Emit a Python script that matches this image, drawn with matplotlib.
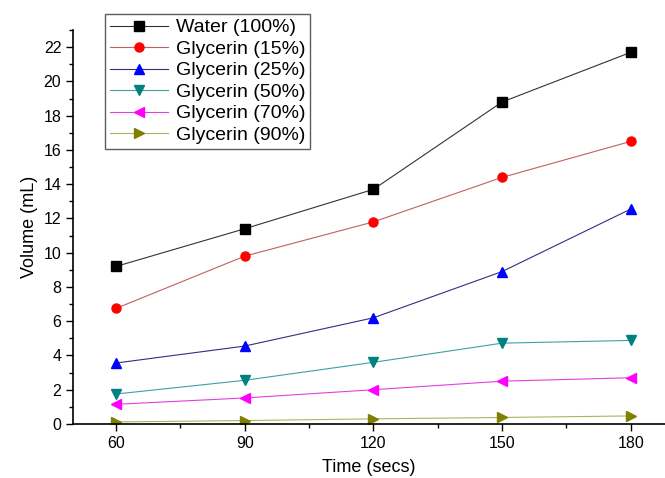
import numpy as np
import matplotlib.pyplot as plt
from matplotlib.ticker import MultipleLocator

plt.rcParams['font.family'] = ['Liberation Sans', 'DejaVu Sans']

# Dane
time_s = [60, 90, 120, 150, 180]
water_100 = [9.2, 11.4, 13.7, 18.8, 21.7]
glycerin_15 = [6.75, 9.8, 11.8, 14.4, 16.5]
glycerin_25 = [3.56, 4.55, 6.2, 8.9, 12.55]
glycerin_50 = [1.75, 2.55, 3.6, 4.72, 4.88]
glycerin_70 = [1.15, 1.52, 2.0, 2.5, 2.7]
glycerin_90 = [0.12, 0.2, 0.3, 0.38, 0.47]

labels = ['Water (100%)', 'Glycerin (15%)', 'Glycerin (25%)',
          'Glycerin (50%)', 'Glycerin (70%)', 'Glycerin (90%)']
series = [water_100, glycerin_15, glycerin_25, glycerin_50, glycerin_70, glycerin_90]
line_colors = ['#333333', '#c06060', '#303080', '#40a0a0', '#e040e0', '#b0b060']
marker_colors = ['black', 'red', 'blue', '#008080', '#ff00ff', '#808000']
markers = ['s', 'o', '^', 'v', '<', '>']

fig = plt.figure(figsize=(6.65, 4.78), dpi=100)
ax = fig.add_axes([0.11, 0.113, 0.89, 0.824])

for y, lab, lc, mc, m in zip(series, labels, line_colors, marker_colors, markers):
    ax.plot(time_s, y, color=lc, lw=0.8, marker=m, markersize=6.5,
            markerfacecolor=mc, markeredgecolor=mc, label=lab)

ax.set_xlim(50, 188)
ax.set_ylim(0, 23)
ax.set_xticks(time_s)
ax.set_yticks(np.arange(0, 23, 2))
ax.xaxis.set_minor_locator(MultipleLocator(15))
ax.yaxis.set_minor_locator(MultipleLocator(1))
ax.tick_params(which='major', length=5, width=1, labelsize=11.5)
ax.tick_params(which='minor', length=3, width=1)
for s in ['top', 'right']:
    ax.spines[s].set_visible(False)
for s in ['left', 'bottom']:
    ax.spines[s].set_linewidth(1.2)

ax.set_xlabel('Time (secs)', fontsize=13, labelpad=6)
ax.set_ylabel('Volume (mL)', fontsize=13, labelpad=4)

leg = ax.legend(loc='upper left', bbox_to_anchor=(105 / 665, 1 - 14 / 478),
                bbox_transform=fig.transFigure, fontsize=14, frameon=True,
                fancybox=False, edgecolor='#333333', handlelength=3.0,
                borderpad=0.25, labelspacing=0.2, handletextpad=0.4,
                borderaxespad=0)
leg.get_frame().set_linewidth(1.0)

fig.savefig('out.png', dpi=100)
